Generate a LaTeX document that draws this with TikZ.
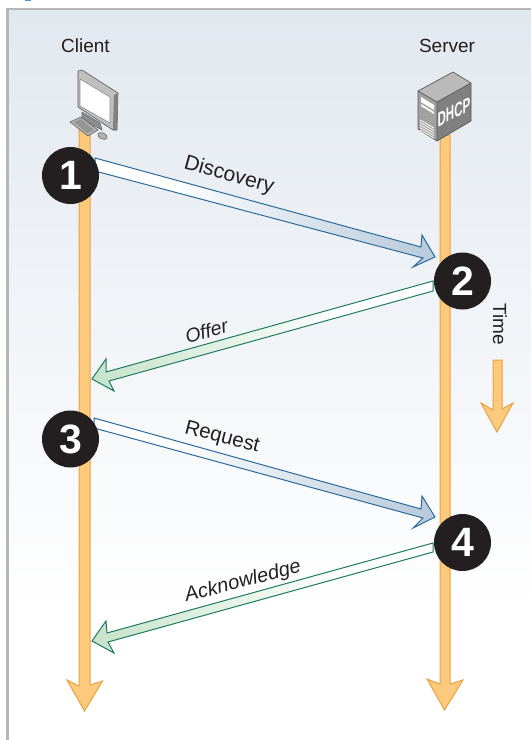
\documentclass[tikz,border=0pt]{standalone}
\usepackage{fontspec}
\setmainfont{Liberation Sans}
\definecolor{bluearrow}{HTML}{B7C9DA}
\definecolor{greenarrow}{HTML}{C6E3CA}
\definecolor{bluerim}{HTML}{2A6A9C}
\definecolor{greenrim}{HTML}{1F7A5F}
\definecolor{orangefill}{HTML}{FDC97C}
\definecolor{orangerim}{HTML}{E8A23F}
\definecolor{panelrim}{HTML}{B4B6B8}
\definecolor{paneltop}{HTML}{E2E8EF}
\definecolor{ink}{HTML}{231F20}
\definecolor{sliver}{HTML}{4A9BD0}
\pgfdeclarehorizontalshading{bluefade}{100bp}{color(0bp)=(white);color(25bp)=(white);color(36bp)=(white);color(75bp)=(bluearrow);color(100bp)=(bluearrow)}
\pgfdeclarehorizontalshading{greenfade}{100bp}{color(0bp)=(greenarrow);color(25bp)=(greenarrow);color(62bp)=(white);color(75bp)=(white);color(100bp)=(white)}
\pgfdeclareverticalshading{panelfade}{100bp}{color(0bp)=(white);color(25bp)=(white);color(34bp)=(white);color(75bp)=(paneltop);color(100bp)=(paneltop)}
\tikzset{
  lifeline/.style={draw=orangerim,fill=orangefill,line width=1pt,line join=miter},
  forward/.style={draw=bluerim,line width=1pt,line join=miter,shade,shading=bluefade},
  backward/.style={draw=greenrim,line width=1pt,line join=miter,shade,shading=greenfade},
  badge/.style={circle,fill=ink,draw=none,minimum size=57pt,inner sep=0pt,text=white,font=\fontsize{41}{41}\selectfont\bfseries},
  lbl/.style={inner sep=0pt,text=ink,font=\fontsize{19}{19}\selectfont},
  slantlbl/.style={inner sep=0pt,text=ink,font=\fontsize{#1}{#1}\selectfont},
  ilbl/.style={inner sep=0pt,text=ink,font=\fontsize{#1}{#1}\selectfont\itshape},
  rim/.style={draw=#1,line width=0.6pt,line join=round},
}
\begin{document}
\begin{tikzpicture}[x=1pt,y=-1pt]
\useasboundingbox (0,0) rectangle (531,740);
% panel
\fill[white] (0,0) rectangle (531,740);
\fill[sliver] (25,0) rectangle (31,1);
\shade[shading=panelfade] (7,9) rectangle (531,740);
\draw[panelrim,line width=2.4pt] (7.5,740) -- (7.5,9) -- (531,9);
% lifelines
\coordinate (cliTop) at (79,130);
\coordinate (cliTip) at (84.5,711);
\coordinate (srvTop) at (440,135);
\coordinate (srvTip) at (444.5,710);
\coordinate (timeTop) at (493,360);
\coordinate (timeTip) at (497,432);
\path[lifeline] (cliTop) -- (79,686) -- (67,680) -- (cliTip) -- (102.5,681) -- (90,685) -- (90,130) -- cycle;
\path[lifeline] (srvTop) -- (440,684) -- (427,679) -- (srvTip) -- (463,680) -- (450,684) -- (450,135) -- cycle;
\path[lifeline] (timeTop) -- (493,410) -- (481,403) -- (timeTip) -- (513,403) -- (502,409) -- (502,360) -- cycle;
% block arrows
\coordinate (aTail) at (95,158);
\coordinate (aTip) at (435,257);
\path[forward] (aTail) -- (421,247) -- (422,235) -- (aTip) -- (413,267) -- (423,258) -- (95,171) -- cycle;
\coordinate (bTail) at (433,281);
\coordinate (bTip) at (92,379);
\path[backward] (bTail) -- (106,372) -- (106,359) -- (bTip) -- (114,391) -- (109,381) -- (433,291) -- cycle;
\coordinate (cTail) at (94,418);
\coordinate (cTip) at (435,517);
\path[forward] (cTail) -- (421,509) -- (422,496) -- (cTip) -- (413,528) -- (423,518) -- (94,428) -- cycle;
\coordinate (dTail) at (433,543);
\coordinate (dTip) at (92,641);
\path[backward] (dTail) -- (107,633) -- (106,621) -- (dTip) -- (114,653) -- (108,642) -- (433,552) -- cycle;
% badges
\node[badge] (one) at (70.5,175.5) {1};
\node[badge] (two) at (462.5,281) {2};
\node[badge] (three) at (70.5,439) {3};
\node[badge] (four) at (462.5,542.5) {4};
% labels
\node[lbl] (client) at (85.5,46) {Client};
\node[lbl] (server) at (447,46) {Server};
\node[slantlbl=21,rotate=-15.5] (discovery) at (229,175.5) {Discovery};
\node[ilbl=19.5,rotate=14.5] (offer) at (206.5,331) {Offer};
\node[slantlbl=20.5,rotate=-14.5] (request) at (222,438) {Request};
\node[ilbl=20,rotate=14.5] (ack) at (243,582) {Acknowledge};
\node[lbl,rotate=-90] (time) at (500,324.5) {Time};
% computer
\fill[black!45,rim=black!60] (82,112) -- (100,123) -- (102,130) -- (82,119) -- cycle;
\fill[black!30,rim=black!60] (70,122) -- (81,117) -- (98,130) -- (88,136) -- cycle;
\fill[black!42] (74,122) -- (81,119) -- (94,130) -- (87,133) -- cycle;
\fill[black!30,rim=black!60,rotate around={-25:(102.5,136)}] (102.5,136) ellipse (5 and 3);
\fill[black!25,rim=black!65] (78,71) -- (82,70) -- (118,93) -- (117,130) -- (113,130) -- (78,107) -- cycle;
\fill[black!50] (113,130) -- (117,130) -- (118,93) -- (114,95) -- cycle;
\fill[white,rim=black!45] (80,79) -- (110,97) -- (110,123) -- (80,106) -- cycle;
% server
\fill[black!27] (418,91) -- (453,72) -- (471,83) -- (437,102) -- cycle;
\fill[black!37] (418,91) -- (437,102) -- (437,141) -- (418,129) -- cycle;
\fill[black!50] (437,102) -- (471,83) -- (471,121) -- (437,141) -- cycle;
\draw[black!65,line width=0.7pt,line join=round] (418,91) -- (453,72) -- (471,83) -- (471,121) -- (437,141) -- (418,129) -- cycle (418,91) -- (437,102) -- (437,141) (437,102) -- (471,83);
\fill[white] (421,97) -- (434,105) -- (434,110) -- (421,102) -- cycle;
\fill[white] (421,104) -- (434,112) -- (434,114) -- (421,106) -- cycle;
\foreach \k in {0,2.5,5,7.5,10}{\draw[white,line width=0.8pt] (420,120+\k) -- (434,128+\k);}
\node[transform shape,yslant=0.5,inner sep=0pt,text=white,font=\fontsize{16}{16}\selectfont\bfseries,xscale=0.72,yscale=1.25] (dhcp) at (454,112) {DHCP};
\end{tikzpicture}
\end{document}
